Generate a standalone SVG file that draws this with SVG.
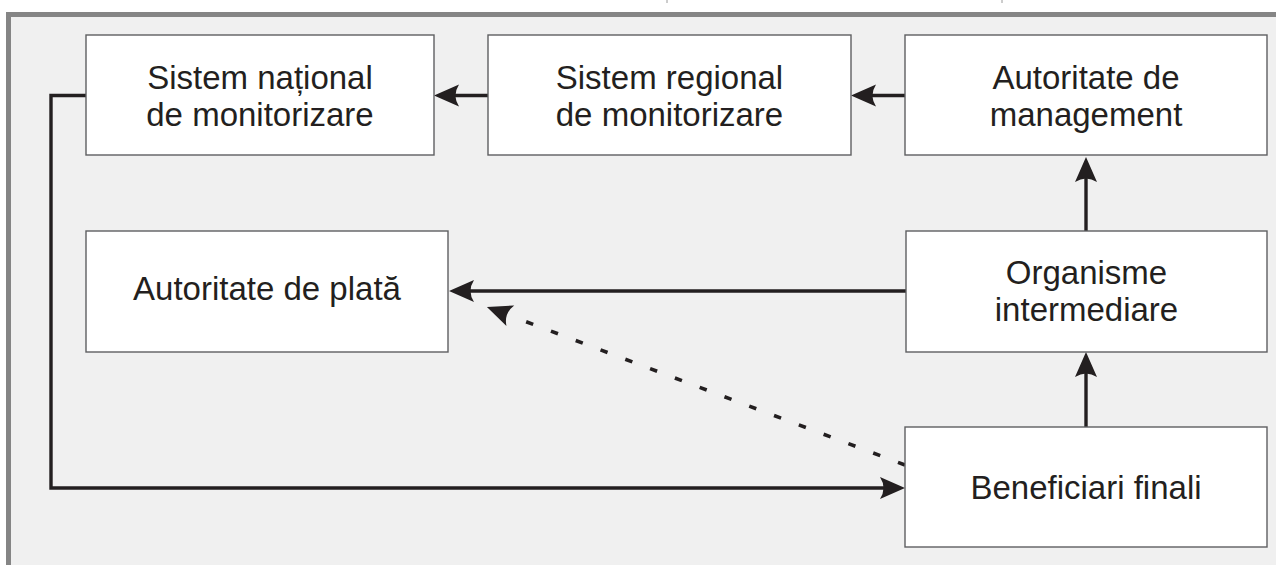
<svg xmlns="http://www.w3.org/2000/svg" width="1276" height="565" viewBox="0 0 1276 565">
  <style>
    .box { fill: #ffffff; stroke: #5e5f61; stroke-width: 1.4; }
    .lbl { font-family: "Liberation Sans", Arial, sans-serif; font-size: 33px; fill: #231f20; text-anchor: middle; }
    .conn { fill: none; stroke: #231f20; stroke-width: 3.4; }
    .dash { fill: none; stroke: #231f20; stroke-width: 3.6; stroke-dasharray: 7.5 19; }
  </style>
  <defs>
    <marker id="arrow" markerUnits="userSpaceOnUse" orient="auto" overflow="visible" viewBox="-26 -12 27 24" refX="-17" refY="0" markerWidth="27" markerHeight="24">
      <path d="M0,0 L-25,-11 Q-18,0 -25,11 Z" fill="#231f20"/>
    </marker>
    <marker id="arrowD" markerUnits="userSpaceOnUse" orient="auto" overflow="visible" viewBox="-26 -12 27 24" refX="-27" refY="0" markerWidth="27" markerHeight="24">
      <path d="M0,0 L-25,-11 Q-18,0 -25,11 Z" fill="#231f20"/>
    </marker>
  </defs>

  <!-- frame -->
  <rect x="0" y="0" width="1276" height="565" fill="#ffffff"/>
  <rect x="11" y="17" width="1265" height="548" fill="#f0f0f0"/>
  <rect x="6" y="12" width="1270" height="5" fill="#858585"/>
  <rect x="6" y="12" width="5" height="553" fill="#858585"/>
  <line x1="667" y1="0" x2="667" y2="3" stroke="#9a9a9a" stroke-width="1"/>
  <line x1="1002" y1="0" x2="1002" y2="3" stroke="#9a9a9a" stroke-width="1"/>

  <!-- connectors -->
  <g id="connectors">
    <path class="conn" d="M488,95.5 H451" marker-end="url(#arrow)"/>
    <path class="conn" d="M909,95.5 H868" marker-end="url(#arrow)"/>
    <path class="conn" d="M1086,231 V174" marker-end="url(#arrow)"/>
    <path class="conn" d="M1086,427 V369" marker-end="url(#arrow)"/>
    <path class="conn" d="M906,291 H466" marker-end="url(#arrow)"/>
    <path class="conn" d="M86,95.5 H51 V488 H888" marker-end="url(#arrow)"/>
    <path class="dash" d="M905,465 L512.2,316.5" marker-end="url(#arrowD)"/>
  </g>

  <g id="sistem-national">
    <rect class="box" x="86" y="35" width="348" height="120"/>
    <text class="lbl" x="260" y="89">Sistem național</text>
    <text class="lbl" x="260" y="126">de monitorizare</text>
  </g>
  <g id="sistem-regional">
    <rect class="box" x="488" y="35" width="363" height="120"/>
    <text class="lbl" x="669.5" y="89">Sistem regional</text>
    <text class="lbl" x="669.5" y="126">de monitorizare</text>
  </g>
  <g id="autoritate-management">
    <rect class="box" x="905" y="35" width="362" height="120"/>
    <text class="lbl" x="1086" y="89">Autoritate de</text>
    <text class="lbl" x="1086" y="126">management</text>
  </g>
  <g id="autoritate-plata">
    <rect class="box" x="86" y="231" width="362" height="121"/>
    <text class="lbl" x="267" y="300">Autoritate de plată</text>
  </g>
  <g id="organisme-intermediare">
    <rect class="box" x="906" y="231" width="361" height="121"/>
    <text class="lbl" x="1086.5" y="284">Organisme</text>
    <text class="lbl" x="1086.5" y="321">intermediare</text>
  </g>
  <g id="beneficiari-finali">
    <rect class="box" x="905" y="427" width="362" height="120"/>
    <text class="lbl" x="1086" y="499">Beneficiari finali</text>
  </g>
</svg>
